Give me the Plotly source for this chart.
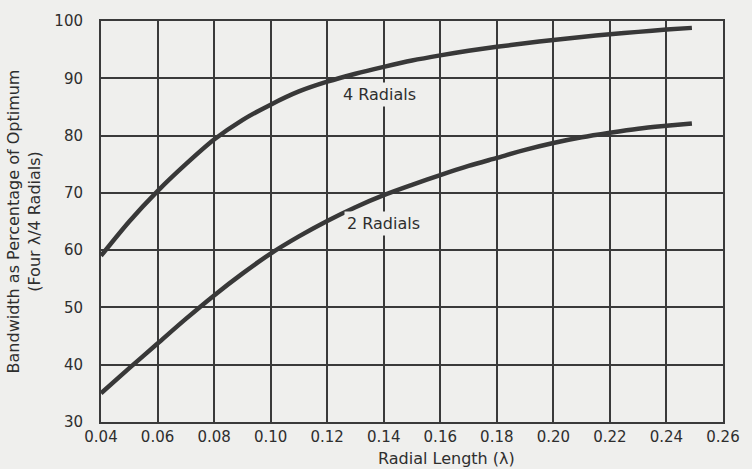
import plotly.graph_objects as go

x4 = [0.04, 0.05, 0.06, 0.07, 0.08, 0.09, 0.10, 0.11, 0.12, 0.13, 0.14, 0.15, 0.16, 0.17, 0.18, 0.19, 0.20, 0.21, 0.22, 0.23, 0.24, 0.249]
y4 = [59.0, 65.0, 70.3, 75.0, 79.3, 82.7, 85.4, 87.7, 89.4, 90.8, 92.0, 93.1, 94.0, 94.8, 95.5, 96.1, 96.7, 97.2, 97.7, 98.1, 98.5, 98.8]

x2 = [0.04, 0.05, 0.06, 0.07, 0.08, 0.09, 0.10, 0.11, 0.12, 0.13, 0.14, 0.15, 0.16, 0.17, 0.18, 0.19, 0.20, 0.21, 0.22, 0.23, 0.24, 0.249]
y2 = [35.0, 39.4, 43.7, 48.0, 52.1, 55.9, 59.4, 62.4, 65.1, 67.5, 69.6, 71.4, 73.1, 74.7, 76.1, 77.5, 78.7, 79.7, 80.5, 81.2, 81.7, 82.1]

x_ticks = [0.04, 0.06, 0.08, 0.10, 0.12, 0.14, 0.16, 0.18, 0.20, 0.22, 0.24, 0.26]
x_tick_text = ["0.04", "0.06", "0.08", "0.10", "0.12", "0.14", "0.16", "0.18", "0.20", "0.22", "0.24", "0.26"]
y_ticks = [30, 40, 50, 60, 70, 80, 90, 100]

labels = [("4 Radials", 0.1384, 87.2), ("2 Radials", 0.1398, 64.6)]

FONT = "DejaVu Sans"
INK = "#2e2e2e"
BG = "#efefed"

fig = go.Figure()
for xs, ys in [(x4, y4), (x2, y2)]:
    fig.add_trace(go.Scatter(x=xs, y=ys, mode="lines",
                             line=dict(color="#383838", width=4.5, shape="spline", smoothing=0.8),
                             showlegend=False, hoverinfo="skip"))

for text, lx, ly in labels:
    fig.add_annotation(x=lx, y=ly, text=text, showarrow=False, bgcolor=BG,
                       font=dict(family=FONT, size=16, color=INK), borderpad=2)

fig.add_annotation(x=0.5, xref="paper", y=-0.063, yref="paper", yanchor="top", xanchor="center",
                   text="Radial Length (λ)", showarrow=False, xshift=34,
                   font=dict(family=FONT, size=16, color=INK))

fig.update_layout(
    width=752, height=469,
    margin=dict(l=101, r=21, t=18, b=47),
    paper_bgcolor=BG, plot_bgcolor=BG,
    font=dict(family=FONT, size=15, color=INK),
    xaxis=dict(range=[0.04, 0.26], tickvals=x_ticks, ticktext=x_tick_text,
               showgrid=True, gridcolor="#3a3a3a", gridwidth=1.5,
               showline=True, linecolor="#3a3a3a", linewidth=2, mirror=True,
               zeroline=False, ticks="", ticklabelstandoff=0,
               tickfont=dict(family=FONT, size=15, color=INK)),
    yaxis=dict(range=[30, 100], tickvals=y_ticks,
               showgrid=True, gridcolor="#3a3a3a", gridwidth=1.5,
               showline=True, linecolor="#3a3a3a", linewidth=2, mirror=True,
               zeroline=False, ticks="", ticklabelstandoff=13,
               title=dict(text="Bandwidth as Percentage of Optimum<br>(Four λ/4 Radials)",
                          font=dict(family=FONT, size=16, color=INK), standoff=10),
               tickfont=dict(family=FONT, size=15, color=INK)),
)

fig.write_html("out.html", config={"displayModeBar": False},
               post_script="document.body.style.margin='0px';document.body.style.background='%s';" % BG)
